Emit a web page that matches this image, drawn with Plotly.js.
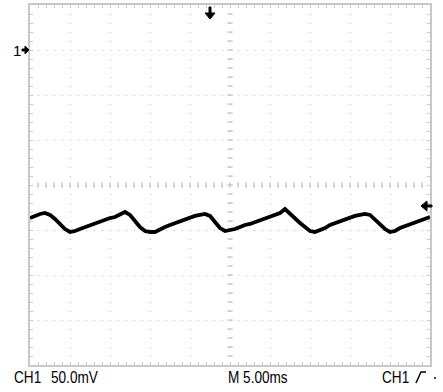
<!DOCTYPE html>
<html>
<head>
<meta charset="utf-8">
<script src="https://cdn.plot.ly/plotly-3.0.1.min.js"></script>
<style>
  html, body { margin: 0; padding: 0; background: #fff; }
  #scope { width: 443px; height: 392px; }
</style>
</head>
<body>
<div id="scope"></div>
<script>
// CH1 capture: time in ms (10 div x 5.00 ms), voltage in mV (8 div x 50.0 mV)
const timeMs = [0,0.625,1.25,1.875,2.5,3.125,3.75,4.375,5,5.625,6.25,6.875,7.5,8.125,8.75,9.375,
  10,10.625,11.25,11.875,12.5,13.125,13.75,14.375,15,15.625,16.25,16.875,17.5,18.125,18.75,19.375,
  20,20.625,21.25,21.875,22.5,23.125,23.75,24.375,25,25.625,26.25,26.875,27.5,28.125,28.75,29.375,
  30,30.625,31.25,31.875,32.5,33.125,33.75,34.375,35,35.625,36.25,36.875,37.5,38.125,38.75,39.375,
  40,40.625,41.25,41.875,42.5,43.125,43.75,44.375,45,45.625,46.25,46.875,47.5,48.125,48.75,49.375,50];
const ch1mV = [-186.7,-184.4,-182.2,-181.1,-183.3,-187.8,-193.3,-198.9,-202.2,-201.1,-198.9,-196.7,-194.4,-192.2,-191.1,-188.9,
  -186.7,-185.6,-182.2,-180.0,-183.3,-190.0,-196.7,-201.1,-202.2,-202.2,-200.0,-196.7,-194.4,-192.2,-190.0,-187.8,
  -186.7,-184.4,-183.3,-182.2,-184.4,-191.1,-197.8,-201.1,-200.0,-198.9,-196.7,-194.4,-193.3,-191.1,-188.9,-186.7,
  -185.6,-183.3,-181.1,-176.7,-182.2,-187.8,-192.2,-196.7,-201.1,-202.2,-200.0,-197.8,-194.4,-192.2,-190.0,-187.8,
  -185.6,-184.4,-183.3,-182.2,-183.3,-188.9,-194.4,-198.9,-202.2,-201.1,-197.8,-195.6,-193.3,-191.1,-190.0,-187.8,-185.6];

// Screen settings
const timeRange = [0, 50];      // ms
const voltRange = [-350, 50];   // mV
const msPerDiv = 5;
const mVPerDiv = 50;
const groundLevel = 0;          // CH1 ground marker
const triggerTime = 22.5;       // trigger position marker (ms)
const triggerLevel = -173.3;    // trigger level marker (mV)
const labelVolts = 'CH1';
const labelScale = '50.0mV';
const labelTime = 'M 5.00ms';
const labelTrig = 'CH1';

const GRID = '#b4b4b4';
const FRAME = '#c8c8c8';
const FONT = { family: 'Liberation Sans, Arial, sans-serif', size: 17, color: '#000' };
const NARROW = 0.8;   // horizontal squeeze for the readout labels

// Centre-cross tick marks every 1/5 division
const tCenter = (timeRange[0] + timeRange[1]) / 2;
const vCenter = (voltRange[0] + voltRange[1]) / 2;
const crossX = [], crossY = [];
for (let t = timeRange[0] + msPerDiv / 5; t < timeRange[1] - 1e-9; t += msPerDiv / 5) { crossX.push(t); crossY.push(vCenter); }
const crossX2 = [], crossY2 = [];
for (let v = voltRange[0] + mVPerDiv / 5; v < voltRange[1] - 1e-9; v += mVPerDiv / 5) { crossX2.push(tCenter); crossY2.push(v); }

const traces = [
  { x: crossX, y: crossY, type: 'scatter', mode: 'markers', hoverinfo: 'skip',
    marker: { symbol: 'line-ns', size: 4, line: { color: GRID, width: 1 } } },
  { x: crossX2, y: crossY2, type: 'scatter', mode: 'markers', hoverinfo: 'skip',
    marker: { symbol: 'line-ew', size: 4, line: { color: GRID, width: 1 } } },
  { x: timeMs, y: ch1mV, type: 'scatter', mode: 'lines', name: 'CH1',
    line: { color: '#000', width: 3.8 } }
];

const axisCommon = {
  showline: true, linecolor: FRAME, linewidth: 2, mirror: 'allticks',
  ticks: 'inside', ticklen: 3, tickcolor: FRAME, tickwidth: 1,
  showticklabels: false, zeroline: false, showgrid: true, gridcolor: GRID, gridwidth: 1,
  fixedrange: true
};

const readout = (text, x, xshift) => ({
  text: text, xref: 'paper', yref: 'paper', x: x, y: 0, xanchor: 'left', yanchor: 'middle',
  xshift: xshift, yshift: -12, showarrow: false, borderpad: 0, borderwidth: 0
});

const layout = {
  width: 443, height: 392,
  margin: { l: 30, r: 13, t: 5, b: 27 },
  paper_bgcolor: '#fff', plot_bgcolor: '#fff',
  showlegend: false,
  font: FONT,
  xaxis: Object.assign({}, axisCommon, {
    range: timeRange, dtick: msPerDiv, tick0: 0, griddash: '1px,8px',
    minor: { dtick: msPerDiv / 5, ticks: 'inside', ticklen: 3, tickcolor: FRAME, tickwidth: 1, showgrid: false }
  }),
  yaxis: Object.assign({}, axisCommon, {
    range: voltRange, dtick: mVPerDiv, tick0: 0, griddash: '1px,7px',
    minor: { dtick: mVPerDiv / 5, ticks: 'inside', ticklen: 3, tickcolor: FRAME, tickwidth: 1, showgrid: false }
  }),
  shapes: [
    // trigger position arrow (top)
    { type: 'path', xref: 'x', yref: 'paper', xsizemode: 'pixel', ysizemode: 'pixel',
      xanchor: triggerTime, yanchor: 1,
      path: 'M -1,-2 L 1,-2 L 1,-8 L 5,-8 L 0,-14 L -5,-8 L -1,-8 Z',
      fillcolor: '#000', line: { color: '#000', width: 1 } },
    // ground marker arrow (left)
    { type: 'path', xref: 'paper', yref: 'y', xsizemode: 'pixel', ysizemode: 'pixel',
      xanchor: 0, yanchor: groundLevel,
      path: 'M -8,1 L -5,1 L -5,4 L -1,0 L -5,-4 L -5,-1 L -8,-1 Z',
      fillcolor: '#000', line: { color: '#000', width: 1 } },
    // trigger level arrow (right)
    { type: 'path', xref: 'paper', yref: 'y', xsizemode: 'pixel', ysizemode: 'pixel',
      xanchor: 1, yanchor: triggerLevel,
      path: 'M -9,0 L -3,5 L -3,1 L 2,1 L 2,-1 L -3,-1 L -3,-5 Z',
      fillcolor: '#000', line: { color: '#000', width: 1 } },
    // rising-edge trigger symbol
    { type: 'path', xref: 'paper', yref: 'paper', xsizemode: 'pixel', ysizemode: 'pixel',
      xanchor: 1, yanchor: 0,
      path: 'M -14,-18 L -9,-7 L -4,-7',
      line: { color: '#000', width: 1.5 } },
    // trailing dot
    { type: 'rect', xref: 'paper', yref: 'paper', xsizemode: 'pixel', ysizemode: 'pixel',
      xanchor: 1, yanchor: 0, x0: 4, x1: 6, y0: -12, y1: -14,
      fillcolor: '#444', line: { width: 0 } }
  ],
  annotations: [
    { text: '1', xref: 'paper', yref: 'y', x: 0, y: groundLevel, xanchor: 'right', yanchor: 'middle',
      xshift: -9, showarrow: false, borderpad: 0, borderwidth: 0,
      font: Object.assign({}, FONT, { size: 15 }) },
    readout(labelVolts, 0, -16),
    readout(labelScale, 0, 21),
    readout(labelTime, 0.5, -2),
    readout(labelTrig, 1, -48)
  ]
};

Plotly.newPlot('scope', traces, layout, { staticPlot: true, displayModeBar: false }).then(gd => {
  // squeeze the bottom readout labels to a narrow face, keeping their left edge fixed
  gd.querySelectorAll('.annotation').forEach((g, i) => {
    if (i === 0) return;
    const txt = g.querySelector('text.annotation-text');
    if (!txt) return;
    const bb = txt.getBBox();
    const x0 = bb.x;
    txt.setAttribute('transform', `translate(${x0},0) scale(${NARROW},1) translate(${-x0},0)`);
  });
});
</script>
</body>
</html>
